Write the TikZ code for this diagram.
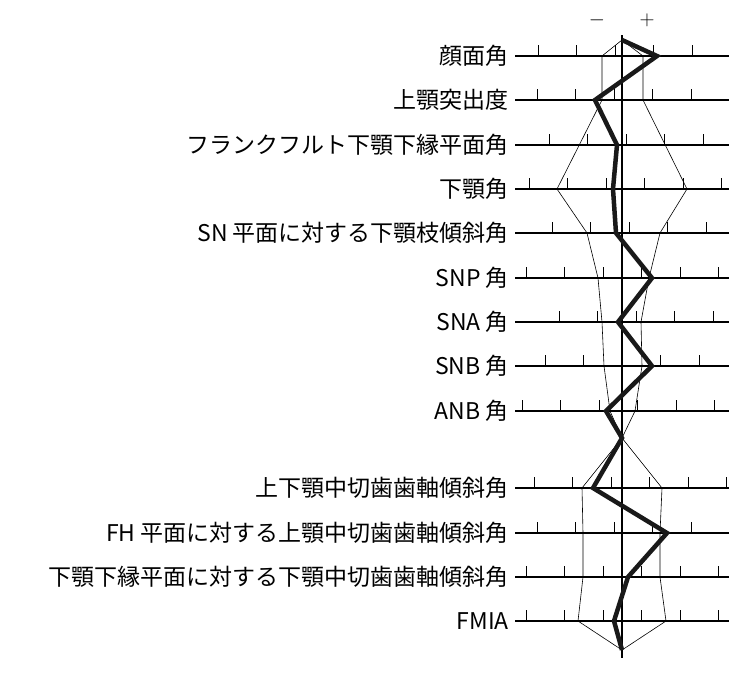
\documentclass[tikz,border=0pt]{standalone}
\usepackage{fontspec}
\newfontfamily\jp{Noto Sans CJK JP}
\begin{document}
\begin{tikzpicture}[x=1pt,y=1pt,yscale=-1,
  label/.style={anchor=east,inner sep=0pt,font=\jp\fontsize{23}{23}\selectfont},
  rowline/.style={line width=1.4pt},
  tick/.style={line width=0.9pt},
  envelope/.style={line width=0.6pt},
  patient/.style={line width=4.5pt,line join=miter,color=black!90}]
\useasboundingbox (0,0) rectangle (742,673);

% rows: y / first tick / patient value / label
\foreach \y/\t/\v/\txt [count=\i] in {
  56/538/657/顔面角,
  100/537/595/上顎突出度,
  145/549/617/フランクフルト下顎下縁平面角,
  189/529/613/下顎角,
  233/552/616/SN 平面に対する下顎枝傾斜角,
  278/526/652/SNP 角,
  322/559/618/SNA 角,
  366/545/652/SNB 角,
  411/522/606/ANB 角,
  488/534/593/上下顎中切歯歯軸傾斜角,
  533/537/667/FH 平面に対する上顎中切歯歯軸傾斜角,
  577/526/628/下顎下縁平面に対する下顎中切歯歯軸傾斜角,
  621/526/614/FMIA}{
  \node[label] (l\i) at (509,\y) {\txt};
  \coordinate (r\i) at (729,\y);
  \draw[rowline] (l\i.east) ++(6,0) coordinate (s\i) -- (r\i);
  \foreach \k in {0,...,5}{
    \pgfmathsetmacro\tx{\t+38.5*\k}
    \ifdim\tx pt<728pt \draw[tick] (\tx,\y) -- ++(0,-11); \fi
  }
  \coordinate (p\i) at (\v,\y);
}

% axis
\coordinate (top) at (622,35);
\coordinate (bot) at (622,658);
\draw[line width=1.6pt] (top) -- (bot);
\node[font=\fontsize{20}{20}\selectfont] (minus) at (597,20) {$-$};
\node[font=\fontsize{20}{20}\selectfont] (plus) at (647,20) {$+$};

% norm range
\draw[envelope] (622,40) -- (602,56) -- (602,100) -- (557,189) -- (587,233)
  -- (598,278) -- (602,322) -- (604,366) -- (610,411) -- (622,438)
  -- (582,488) -- (583,533) -- (583,577) -- (578,621) -- (622,650);
\draw[envelope] (622,40) -- (643,56) -- (643,100) -- (687,189) -- (660,233)
  -- (649,278) -- (641,322) -- (642,366) -- (635,411) -- (622,438)
  -- (662,488) -- (660,533) -- (660,577) -- (666,621) -- (622,650);

% patient
\draw[patient] (622,40) -- (p1) -- (p2) -- (p3) -- (p4) -- (p5) -- (p6)
  -- (p7) -- (p8) -- (p9) -- (622,438) -- (p10) -- (p11) -- (p12) -- (p13)
  -- (622,650);
\end{tikzpicture}
\end{document}
